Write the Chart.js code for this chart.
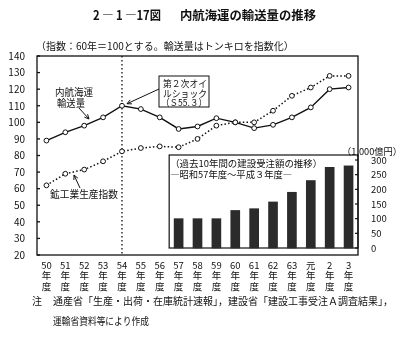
<!DOCTYPE html>
<html><head><meta charset="utf-8">
<script src="https://cdn.jsdelivr.net/npm/chart.js@4"></script>
<style>html,body{margin:0;padding:0;background:#fff}canvas{display:block}</style>
</head><body>
<canvas id="c" width="419" height="338"></canvas>
<script>
// ---- data ----
const years = ['50','51','52','53','54','55','56','57','58','59','60','61','62','63','元','2','3'];
const shippingIndex = [89, 94, 98, 103, 110, 108, 103, 96, 97.5, 102.5, 100, 96.5, 98.5, 103, 109, 120, 121];
const miningIndex   = [62, 69, 71.5, 76.5, 82.5, 84.5, 85.5, 85, 90, 98, 100, 100, 107, 116, 121, 128, 128];
const orderYears = ['57','58','59','60','61','62','63','元','2','3'];
const constructionOrders = [100, 100, 100, 128, 134, 157, 190, 230, 275, 280];
const leftTicks = [20, 30, 40, 50, 60, 70, 80, 90, 100, 110, 120, 130, 140];
const rightTicks = [0, 50, 100, 150, 200, 250, 300];
const oilShockYear = '54';

const FONT = "'Noto Sans CJK JP', 'Noto Sans', sans-serif";
Chart.defaults.font.family = FONT;
Chart.defaults.color = '#111';

const ordersFull = years.map(y => { const i = orderYears.indexOf(y); return i >= 0 ? constructionOrders[i] : null; });

function arrow(ctx, x1, y1, x2, y2) {
  ctx.beginPath(); ctx.moveTo(x1, y1); ctx.lineTo(x2, y2); ctx.stroke();
  const a = Math.atan2(y2 - y1, x2 - x1), L = 5;
  ctx.beginPath();
  ctx.moveTo(x2, y2); ctx.lineTo(x2 - L * Math.cos(a - 0.45), y2 - L * Math.sin(a - 0.45));
  ctx.moveTo(x2, y2); ctx.lineTo(x2 - L * Math.cos(a + 0.45), y2 - L * Math.sin(a + 0.45));
  ctx.stroke();
}

const deco = {
  id: 'deco',
  beforeDatasetsDraw(chart) {
    const {ctx, chartArea: ca, scales} = chart;
    const x = scales.x, y2 = scales.y2;
    const i56 = years.indexOf('56'), i57 = years.indexOf('57');
    const left = (x.getPixelForValue(i56) + x.getPixelForValue(i57)) / 2;
    const top = y2.getPixelForValue(300) - 5, bottom = y2.getPixelForValue(0);
    ctx.save();
    ctx.fillStyle = '#fff';
    ctx.fillRect(left, top, ca.right - left, bottom - top);
    ctx.strokeStyle = '#111'; ctx.lineWidth = 1.2;
    ctx.strokeRect(left, top, ca.right - left, bottom - top);
    rightTicks.forEach(v => {
      const py = y2.getPixelForValue(v);
      ctx.beginPath(); ctx.moveTo(ca.right, py); ctx.lineTo(ca.right - 3, py); ctx.stroke();
    });
    ctx.fillStyle = '#111';
    ctx.font = '9.5px ' + FONT;
    ctx.textBaseline = 'middle'; ctx.textAlign = 'left';
    ctx.fillText('（過去10年間の建設受注額の推移）', left + 1, top + 8, 152);
    ctx.fillText('―昭和57年度～平成３年度―', left + 1, top + 19, 122);
    const xo = x.getPixelForValue(years.indexOf(oilShockYear));
    ctx.setLineDash([1.5, 2.5]); ctx.lineWidth = 1.3;
    ctx.beginPath(); ctx.moveTo(xo, ca.top); ctx.lineTo(xo, ca.bottom); ctx.stroke();
    ctx.setLineDash([]);
    ctx.restore();
  },
  afterDraw(chart) {
    const {ctx, chartArea: ca, scales} = chart;
    const x = scales.x, y = scales.y;
    ctx.save();
    ctx.strokeStyle = '#111'; ctx.fillStyle = '#111'; ctx.lineWidth = 1.3;
    ctx.strokeRect(ca.left, ca.top, ca.right - ca.left, ca.bottom - ca.top);
    leftTicks.forEach(v => {
      const py = y.getPixelForValue(v);
      ctx.beginPath(); ctx.moveTo(ca.left, py); ctx.lineTo(ca.left + 3, py); ctx.stroke();
    });
    ctx.textBaseline = 'middle'; ctx.textAlign = 'left';
    ctx.font = 'bold 12.5px ' + FONT;
    ctx.fillText('2 ― 1 ―17図', 93, 15, 68);
    ctx.fillText('内航海運の輸送量の推移', 180, 15, 136);
    ctx.font = '10px ' + FONT;
    ctx.fillText('（指数：60年＝100とする。輸送量はトンキロを指数化）', 36, 46, 266);
    ctx.fillText('内航海運', 55, 92, 38);
    ctx.fillText('輸送量', 57, 103, 28);
    ctx.lineWidth = 1;
    arrow(ctx, 79, 108, 89, 119);
    ctx.fillText('鉱工業生産指数', 50, 194, 68);
    arrow(ctx, 80, 188, 74, 175);
    ctx.fillStyle = '#fff';
    ctx.fillRect(159, 76, 50, 31);
    ctx.strokeRect(159, 76, 50, 31);
    ctx.fillStyle = '#111';
    ctx.font = '9.5px ' + FONT;
    ctx.fillText('第２次オイ', 163, 83, 44);
    ctx.fillText('ルショック', 163, 93, 44);
    ctx.fillText('（Ｓ55.３）', 161, 102, 46);
    const xo = x.getPixelForValue(years.indexOf(oilShockYear));
    const yo = y.getPixelForValue(shippingIndex[years.indexOf(oilShockYear)]);
    arrow(ctx, 159, 89, xo + 5, yo - 2);
    ctx.font = '9.5px ' + FONT;
    ctx.fillText('（1,000億円）', 342, 151, 60);
    ctx.font = '10px ' + FONT;
    ctx.fillText('注', 32, 301);
    ctx.fillText('通産省「生産・出荷・在庫統計速報」，建設省「建設工事受注Ａ調査結果」，', 53, 301, 350);
    ctx.fillText('運輸省資料等により作成', 53, 321, 96);
    ctx.restore();
  }
};

new Chart(document.getElementById('c'), {
  data: {
    labels: years.map(v => [v, '年', '度']),
    datasets: [
      { type: 'line', label: '内航海運輸送量', data: shippingIndex, yAxisID: 'y',
        borderColor: '#111', borderWidth: 1.4, tension: 0,
        pointRadius: 2.4, pointBackgroundColor: '#fff', pointBorderColor: '#111', pointBorderWidth: 1, order: 1 },
      { type: 'line', label: '鉱工業生産指数', data: miningIndex, yAxisID: 'y',
        borderColor: '#111', borderWidth: 1.5, borderDash: [1.5, 2.2], tension: 0,
        pointRadius: 2.4, pointBackgroundColor: '#fff', pointBorderColor: '#111', pointBorderWidth: 1, order: 2 },
      { type: 'bar', label: '建設受注額', data: ordersFull, yAxisID: 'y2',
        backgroundColor: '#2b2b2b', barThickness: 9, order: 3 }
    ]
  },
  options: {
    responsive: false, animation: false, devicePixelRatio: 1,
    layout: { padding: { top: 56, left: 0, right: 0, bottom: 0 } },
    plugins: { legend: { display: false }, tooltip: { enabled: false } },
    scales: {
      x: { type: 'category', offset: true,
        grid: { display: false }, border: { display: false },
        ticks: { maxRotation: 0, autoSkip: false, padding: -3, color: '#111',
          font: { size: 9.5, lineHeight: 1.1 } },
        afterFit(s) { s.height = 83; } },
      y: { position: 'left', min: 20, max: 140,
        grid: { display: false }, border: { display: false },
        afterBuildTicks(s) { s.ticks = leftTicks.map(v => ({ value: v })); },
        ticks: { padding: 4, color: '#111', font: { size: 10 } },
        afterFit(s) { s.width = 37; } },
      y2: { position: 'right', min: -300 * 7 / 88, max: 300 + 300 * 104 / 88,
        grid: { display: false }, border: { display: false },
        afterBuildTicks(s) { s.ticks = rightTicks.map(v => ({ value: v })); },
        ticks: { padding: 5, color: '#111', font: { size: 9.5 } },
        afterFit(s) { s.width = 61; } }
    }
  },
  plugins: [deco]
});
</script>
</body></html>
